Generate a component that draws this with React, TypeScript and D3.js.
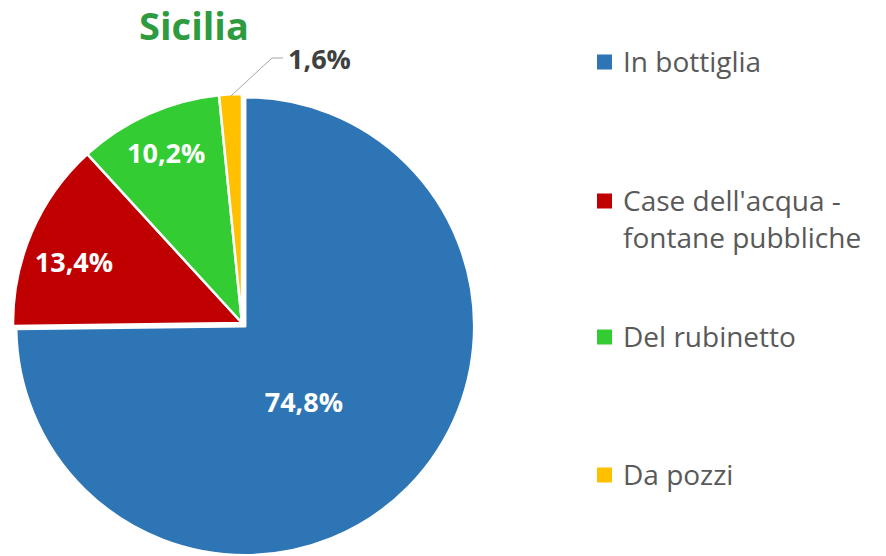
import React, { FC, useMemo } from 'react'
import * as d3 from 'd3'

// dati
const categories = ['In bottiglia', "Case dell'acqua - fontane pubbliche", 'Del rubinetto', 'Da pozzi']
const legendLines = [['In bottiglia'], ["Case dell'acqua -", 'fontane pubbliche'], ['Del rubinetto'], ['Da pozzi']]
const values = [74.8, 13.4, 10.2, 1.6]
const valueLabels = ['74,8%', '13,4%', '10,2%', '1,6%']
const colors = ['#2E75B6', '#C00000', '#33CC33', '#FFC000']
const title = 'Sicilia'

const W = 886
const H = 556
const FONT = '"Open Sans", "DejaVu Sans", sans-serif'

// layout of the pie
const cx = 242
const cy = 323
const radius = 229
const explode = [4.5, 0, 0, 0]
// label placement: fraction of radius, angle tweak (rad)
const labelPos = [
	{ r: 0.42, da: 0.13 },
	{ r: 0.78, da: -0.063 },
	{ r: 0.81, da: 0 },
	{ r: 1, da: 0 }
]
const legendY = [62, 201, 337, 475]

const App: FC = () => {
	const arcs = useMemo(
		() =>
			d3
				.pie<number>()
				.sort(null)
				.value((d) => d)(values),
		[]
	)

	const arc = d3.arc<d3.PieArcDatum<number>>().innerRadius(0).outerRadius(radius)

	return (
		<svg width={W} height={H} style={{ position: 'absolute', left: 0, top: 0, background: '#fff' }}>
			<text
				x={194}
				y={40}
				textAnchor="middle"
				fontFamily={FONT}
				fontWeight={700}
				fontSize={38}
				fill="#2E9B3F"
			>
				{title}
			</text>

			<g transform={`translate(${cx},${cy})`}>
				{arcs.map((a, i) => {
					const mid = (a.startAngle + a.endAngle) / 2
					const ox = Math.sin(mid) * explode[i]
					const oy = -Math.cos(mid) * explode[i]
					return (
						<path
							key={categories[i]}
							d={arc(a) || ''}
							transform={`translate(${ox},${oy})`}
							fill={colors[i]}
							stroke="#fff"
							strokeWidth={2.5}
							strokeLinejoin="round"
						/>
					)
				})}
				{arcs.map((a, i) => {
					if (i === arcs.length - 1) return null
					const mid = (a.startAngle + a.endAngle) / 2 + labelPos[i].da
					const rr = radius * labelPos[i].r
					const ox = Math.sin(mid) * (rr + explode[i])
					const oy = -Math.cos(mid) * (rr + explode[i])
					return (
						<text
							key={'l' + i}
							x={ox}
							y={oy}
							dy="0.36em"
							textAnchor="middle"
							fontFamily={FONT}
							fontWeight={700}
							fontSize={27}
							fill="#fff"
						>
							{valueLabels[i]}
						</text>
					)
				})}
				{(() => {
					const i = arcs.length - 1
					const a = arcs[i]
					const mid = (a.startAngle + a.endAngle) / 2
					const p0: [number, number] = [Math.sin(mid) * (radius - 2), -Math.cos(mid) * (radius - 2)]
					const p1: [number, number] = [30, -265]
					const p2: [number, number] = [41, -265]
					return (
						<g>
							<path
								d={d3.line()([p0, p1, p2]) || ''}
								fill="none"
								stroke="#A6A6A6"
								strokeWidth={1}
							/>
							<text
								x={46}
								y={-264}
								dy="0.36em"
								fontFamily={FONT}
								fontWeight={700}
								fontSize={27}
								fill="#404040"
							>
								{valueLabels[i]}
							</text>
						</g>
					)
				})()}
			</g>

			<g>
				{categories.map((c, i) => (
					<g key={c} transform={`translate(597,${legendY[i]})`}>
						<rect x={0} y={-7.5} width={15} height={15} fill={colors[i]} />
						{legendLines[i].map((ln, j) => (
							<text
								key={j}
								x={26}
								y={j * 37}
								dy="0.36em"
								fontFamily={FONT}
								fontSize={28}
								fill="#595959"
							>
								{ln}
							</text>
						))}
					</g>
				))}
			</g>
		</svg>
	)
}

export default App
